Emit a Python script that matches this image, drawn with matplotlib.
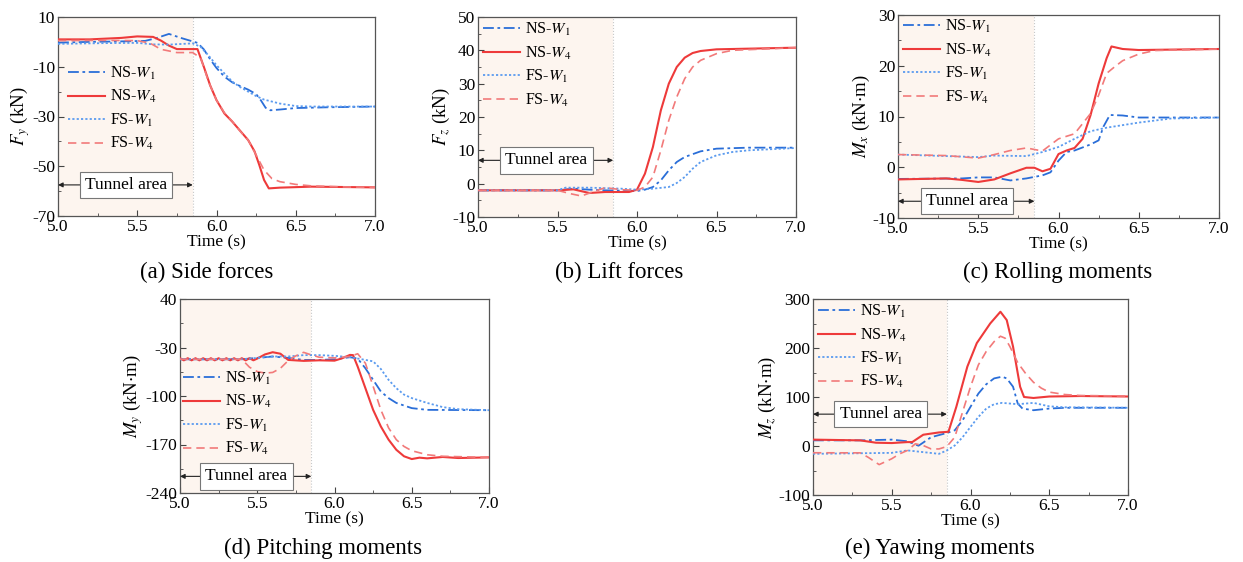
import matplotlib
matplotlib.use("Agg")
import matplotlib.pyplot as plt
import numpy as np

plt.rcParams['font.family'] = ['Liberation Serif', 'DejaVu Serif']
plt.rcParams['mathtext.fontset'] = 'stix'
plt.rcParams['axes.unicode_minus'] = False

# (a) side forces Fy [kN]
a_t_ns1 = [5.0, 5.2, 5.4, 5.55, 5.62, 5.7, 5.78, 5.88, 5.92, 5.96, 6.0, 6.05, 6.1, 6.15, 6.2, 6.25, 6.28, 6.31, 6.34, 6.4, 6.5, 6.7, 7.0]
a_ns1 = [-0.3, 0.0, 0.2, 0.4, 1.5, 3.2, 1.5, -0.4, -3.0, -7.0, -10.5, -14.0, -16.3, -17.8, -19.2, -21.0, -23.5, -26.5, -27.5, -27.2, -26.6, -26.3, -26.0]
a_t_ns4 = [5.0, 5.2, 5.4, 5.5, 5.6, 5.65, 5.7, 5.75, 5.88, 5.92, 5.96, 6.0, 6.05, 6.1, 6.15, 6.2, 6.24, 6.27, 6.3, 6.33, 6.4, 6.6, 7.0]
a_ns4 = [1.0, 1.0, 1.6, 2.2, 2.0, 0.5, -1.5, -2.9, -2.9, -10.0, -17.5, -23.4, -28.8, -32.1, -35.8, -39.5, -44.0, -49.5, -55.5, -58.9, -58.6, -58.2, -58.5]
a_t_fs1 = [5.0, 5.3, 5.5, 5.6, 5.7, 5.85, 5.9, 5.95, 6.0, 6.05, 6.1, 6.15, 6.2, 6.25, 6.3, 6.4, 6.5, 6.6, 7.0]
a_fs1 = [-0.8, -0.5, -0.4, -1.0, -1.1, -0.6, -2.0, -5.5, -9.4, -12.7, -16.0, -18.2, -20.0, -21.8, -23.2, -24.8, -25.8, -26.0, -26.0]
a_t_fs4 = [5.0, 5.3, 5.5, 5.58, 5.65, 5.75, 5.85, 5.9, 5.95, 6.0, 6.05, 6.1, 6.15, 6.2, 6.25, 6.3, 6.35, 6.4, 6.5, 6.6, 6.8, 7.0]
a_fs4 = [0.5, 0.6, 0.5, -0.5, -3.0, -4.3, -4.3, -6.5, -16.0, -23.5, -28.5, -32.0, -36.0, -39.5, -45.5, -51.5, -55.0, -56.2, -57.3, -57.9, -58.3, -58.5]

# (b) lift forces Fz [kN]
b_t_ns1 = [5.0, 5.5, 5.6, 5.7, 5.8, 6.0, 6.05, 6.1, 6.15, 6.2, 6.25, 6.3, 6.4, 6.5, 6.7, 7.0]
b_ns1 = [-2.0, -2.0, -1.5, -1.8, -2.0, -2.2, -1.8, -1.0, 1.0, 4.0, 6.5, 8.0, 9.7, 10.5, 10.8, 10.8]
b_t_ns4 = [5.0, 5.5, 5.6, 5.7, 5.8, 5.95, 6.0, 6.05, 6.1, 6.15, 6.2, 6.25, 6.3, 6.35, 6.4, 6.5, 6.7, 7.0]
b_ns4 = [-2.0, -2.0, -1.7, -2.8, -2.5, -2.5, -1.8, 3.0, 11.0, 22.0, 30.0, 35.0, 37.8, 39.2, 39.8, 40.3, 40.5, 40.8]
b_t_fs1 = [5.0, 5.5, 5.55, 5.7, 5.9, 6.0, 6.1, 6.2, 6.25, 6.3, 6.35, 6.4, 6.5, 6.6, 6.7, 7.0]
b_fs1 = [-2.0, -2.0, -1.2, -1.2, -1.5, -1.8, -1.5, -1.0, 0.2, 2.0, 4.5, 6.5, 8.5, 9.5, 10.0, 10.7]
b_t_fs4 = [5.0, 5.5, 5.58, 5.65, 5.72, 5.8, 5.9, 6.0, 6.05, 6.1, 6.15, 6.2, 6.25, 6.3, 6.35, 6.4, 6.5, 6.6, 7.0]
b_fs4 = [-2.0, -2.0, -3.0, -3.7, -2.5, -1.2, -1.8, -2.0, -1.0, 2.0, 10.0, 19.0, 26.0, 31.5, 35.0, 37.0, 39.0, 40.0, 40.8]

# (c) rolling moments Mx [kN.m]
c_t_ns1 = [5.0, 5.4, 5.5, 5.6, 5.7, 5.8, 5.9, 5.95, 6.0, 6.05, 6.1, 6.2, 6.25, 6.28, 6.32, 6.4, 6.5, 7.0]
c_ns1 = [-2.3, -2.2, -2.0, -2.0, -2.6, -2.2, -1.6, -1.0, 1.3, 3.0, 3.3, 4.5, 5.3, 8.0, 10.3, 10.2, 9.8, 9.8]
c_t_ns4 = [5.0, 5.3, 5.4, 5.5, 5.6, 5.7, 5.8, 5.85, 5.9, 5.95, 6.0, 6.05, 6.1, 6.15, 6.2, 6.25, 6.3, 6.33, 6.4, 6.5, 7.0]
c_ns4 = [-2.4, -2.2, -2.5, -2.9, -2.4, -1.2, -0.1, -0.1, -0.8, -0.3, 2.6, 3.3, 3.8, 5.6, 10.3, 16.5, 21.5, 23.8, 23.3, 23.1, 23.3]
c_t_fs1 = [5.0, 5.5, 5.6, 5.8, 5.9, 6.0, 6.1, 6.2, 6.3, 6.4, 6.5, 6.6, 6.7, 7.0]
c_fs1 = [2.5, 2.0, 2.3, 2.2, 3.0, 4.0, 5.6, 7.1, 7.8, 8.3, 8.8, 9.2, 9.6, 9.8]
c_t_fs4 = [5.0, 5.3, 5.5, 5.6, 5.7, 5.8, 5.9, 6.0, 6.1, 6.2, 6.25, 6.3, 6.35, 6.4, 6.5, 6.6, 7.0]
c_fs4 = [2.5, 2.3, 1.8, 2.5, 3.3, 3.8, 3.2, 5.6, 6.6, 10.6, 14.2, 18.5, 19.8, 21.0, 22.3, 23.0, 23.3]

# (d) pitching moments My [kN.m]
d_t_ns1 = [5.0, 5.4, 5.5, 5.6, 5.7, 5.8, 5.9, 6.0, 6.1, 6.15, 6.2, 6.25, 6.3, 6.35, 6.4, 6.5, 6.6, 7.0]
d_ns1 = [-47, -47, -45, -43, -45, -48, -48, -47, -44, -46, -60, -76.7, -93.5, -103, -110, -117.5, -120, -120.5]
d_t_ns4 = [5.0, 5.025, 5.05, 5.075, 5.1, 5.125, 5.15, 5.175, 5.2, 5.225, 5.25, 5.275, 5.3, 5.325, 5.35, 5.375, 5.4, 5.425, 5.45, 5.475, 5.5,
           5.55, 5.6, 5.65, 5.7, 5.8, 5.9, 6.0, 6.05, 6.1, 6.12, 6.15, 6.2, 6.25, 6.3, 6.35, 6.4, 6.45, 6.5, 6.55, 6.6, 6.7, 6.8, 7.0]
d_ns4 = [-45.5, -48.5, -45.5, -48.5, -45.5, -48.5, -45.5, -48.5, -45.5, -48.5, -45.5, -48.5, -45.5, -48.5, -45.5, -48.5, -45.5, -48.5, -45.5, -48.5, -46,
         -40, -36.8, -39, -47.9, -49.3, -48.5, -49, -45.5, -40.7, -41, -57.5, -88.7, -120, -144, -163, -177.6, -187, -191, -189, -190, -188, -189.5, -188.6]
d_t_fs1 = [5.0, 5.4, 5.5, 5.6, 5.7, 5.8, 5.9, 6.0, 6.1, 6.2, 6.25, 6.3, 6.35, 6.4, 6.45, 6.5, 6.6, 6.7, 6.8, 7.0]
d_fs1 = [-47, -47, -45, -43, -43, -41, -41, -42, -44, -47.9, -50, -61, -76.7, -88.7, -98, -103, -110, -116, -119, -120.5]
d_t_fs4 = [5.0, 5.4, 5.45, 5.5, 5.55, 5.6, 5.65, 5.7, 5.75, 5.8, 5.85, 5.9, 6.0, 6.1, 6.15, 6.2, 6.25, 6.3, 6.35, 6.4, 6.45, 6.5, 6.6, 6.7, 7.0]
d_fs4 = [-47, -47, -58.5, -64.7, -67, -66, -60, -49, -42, -37, -40.7, -44, -45, -43, -39, -52.7, -86, -120, -146, -163, -172.8, -179, -184.8, -187, -188.6]

# (e) yawing moments Mz [kN.m]
e_t_ns1 = [5.0, 5.3, 5.5, 5.6, 5.67, 5.75, 5.85, 5.9, 5.95, 6.0, 6.05, 6.1, 6.15, 6.2, 6.23, 6.27, 6.3, 6.33, 6.4, 6.5, 6.6, 7.0]
e_ns1 = [11.5, 11.5, 13, 9.6, 0.5, 18, 26.5, 32, 52.5, 80, 107, 126, 138, 141.4, 138, 121, 86.7, 76.4, 73, 76.4, 78, 78]
e_t_ns4 = [5.0, 5.3, 5.4, 5.5, 5.6, 5.63, 5.7, 5.8, 5.86, 5.91, 5.98, 6.04, 6.125, 6.19, 6.23, 6.27, 6.315, 6.34, 6.4, 6.5, 6.7, 7.0]
e_ns4 = [13, 11.5, 6.7, 6, 8, 8, 23, 27.7, 29, 80, 162, 210, 250, 274, 257, 203, 121, 100, 98, 101, 102, 101]
e_t_fs1 = [5.0, 5.5, 5.6, 5.7, 5.8, 5.85, 5.9, 5.95, 6.0, 6.05, 6.1, 6.15, 6.2, 6.3, 6.4, 6.5, 6.6, 7.0]
e_fs1 = [-16, -14, -9, -12.5, -16, -9, 1, 18, 39, 59.3, 76.4, 85.3, 88, 85.3, 88, 81, 79, 78]
e_t_fs4 = [5.0, 5.3, 5.35, 5.42, 5.5, 5.55, 5.6, 5.65, 5.7, 5.75, 5.8, 5.85, 5.9, 5.95, 6.0, 6.05, 6.1, 6.15, 6.19, 6.22, 6.25, 6.3, 6.35, 6.4, 6.45, 6.5, 6.6, 6.7, 7.0]
e_fs4 = [-13.8, -14, -23, -38, -26, -16, -9, 4.5, 1, -6, -6, -1, 18, 69.6, 121, 165.5, 193, 213, 224, 220, 203, 170, 148, 130, 118, 110, 105, 103, 102]

labels = ['NS-$W_1$', 'NS-$W_4$', 'FS-$W_1$', 'FS-$W_4$']
styles = [dict(color='#2a6ed8', lw=1.3, dashes=[6, 2, 1.5, 2]),
          dict(color='#ee3a3a', lw=1.5, ls='-'),
          dict(color='#5b9bef', lw=1.3, dashes=[1.2, 1.2]),
          dict(color='#f27a7a', lw=1.2, dashes=[5, 3])]

W, H = 1243, 562
fig = plt.figure(figsize=(W / 100, H / 100), dpi=100)


def add_axes(l, t, r, b):
    return fig.add_axes([l / W, 1 - b / H, (r - l) / W, (b - t) / H])


panels = [
    dict(box=(58, 17, 375, 216), ylabel='$F_y$ (kN)', ylim=(-70, 10), ystep=20,
         data=[(a_t_ns1, a_ns1), (a_t_ns4, a_ns4), (a_t_fs1, a_fs1), (a_t_fs4, a_fs4)],
         leg=(0.032, 0.76), arrow_y=-57.5, cap='(a) Side forces', cap_xy=(207, 272)),
    dict(box=(478, 17, 796, 217), ylabel='$F_z$ (kN)', ylim=(-10, 50), ystep=10,
         data=[(b_t_ns1, b_ns1), (b_t_ns4, b_ns4), (b_t_fs1, b_fs1), (b_t_fs4, b_fs4)],
         leg=(0.016, 0.98), arrow_y=7, cap='(b) Lift forces', cap_xy=(619, 272)),
    dict(box=(898, 15, 1219, 218), ylabel='$M_x$ (kN$\\cdot$m)', ylim=(-10, 30), ystep=10,
         data=[(c_t_ns1, c_ns1), (c_t_ns4, c_ns4), (c_t_fs1, c_fs1), (c_t_fs4, c_fs4)],
         leg=(0.016, 0.985), arrow_y=-6.7, cap='(c) Rolling moments', cap_xy=(1058, 272)),
    dict(box=(180, 299, 489, 493), ylabel='$M_y$ (kN$\\cdot$m)', ylim=(-240, 40), ystep=70,
         data=[(d_t_ns1, d_ns1), (d_t_ns4, d_ns4), (d_t_fs1, d_fs1), (d_t_fs4, d_fs4)],
         leg=(0.01, 0.635), arrow_y=-216, cap='(d) Pitching moments', cap_xy=(323, 548)),
    dict(box=(813, 299, 1128, 495), ylabel='$M_z$ (kN$\\cdot$m)', ylim=(-100, 300), ystep=100,
         data=[(e_t_ns1, e_ns1), (e_t_ns4, e_ns4), (e_t_fs1, e_fs1), (e_t_fs4, e_fs4)],
         leg=(0.017, 0.98), arrow_y=65, cap='(e) Yawing moments', cap_xy=(940, 548)),
]

for p in panels:
    ax = add_axes(*p['box'])
    ax.axvspan(5.0, 5.85, color='#fdf5ef', lw=0, zorder=0)
    ax.axvline(5.85, color='#c8c8c8', ls=':', lw=0.8, zorder=1)
    for (t, v), lab, st in zip(p['data'], labels, styles):
        ax.plot(t, v, label=lab, zorder=3, **st)
    lo, hi = p['ylim']
    step = p['ystep']
    ax.set_xlim(5.0, 7.0)
    ax.set_ylim(lo, hi)
    ax.set_xticks(np.arange(5.0, 7.01, 0.5))
    ax.set_xticks(np.arange(5.0, 7.01, 0.25), minor=True)
    ax.set_yticks(np.arange(lo, hi + step / 10, step))
    ax.set_yticks(np.arange(lo, hi + step / 10, step / 2), minor=True)
    ax.xaxis.set_major_formatter(plt.FormatStrFormatter('%.1f'))
    ax.yaxis.set_major_formatter(plt.FormatStrFormatter('%d'))
    ax.tick_params(which='both', direction='in', labelsize=12.5, pad=2, color='#444444')
    ax.tick_params(which='major', length=4, width=0.8)
    ax.tick_params(which='minor', length=2, width=0.6)
    for s in ax.spines.values():
        s.set_color('#555555')
        s.set_linewidth(0.9)
    ax.set_xlabel('Time (s)', fontsize=12.5, labelpad=0)
    ax.set_ylabel(p['ylabel'], fontsize=13.5, labelpad=0)
    ax.legend(loc='upper left', bbox_to_anchor=p['leg'], frameon=False, fontsize=11.5,
              handlelength=2.3, handletextpad=0.3, labelspacing=0.4,
              borderpad=0, borderaxespad=0)
    ay = p['arrow_y']
    ax.annotate('', xy=(5.0, ay), xytext=(5.85, ay),
                arrowprops=dict(arrowstyle='<|-|>', color='#222222', lw=0.8,
                                mutation_scale=7, shrinkA=0, shrinkB=0), zorder=4)
    ax.text(5.43, ay, 'Tunnel area', ha='center', va='center', fontsize=12.5, zorder=5,
            bbox=dict(boxstyle='square,pad=0.3', fc='white', ec='#777777', lw=0.8))
    fig.text(p['cap_xy'][0] / W, 1 - p['cap_xy'][1] / H, p['cap'],
             ha='center', va='center', fontsize=16.5)

fig.savefig('out.png', dpi=100)
